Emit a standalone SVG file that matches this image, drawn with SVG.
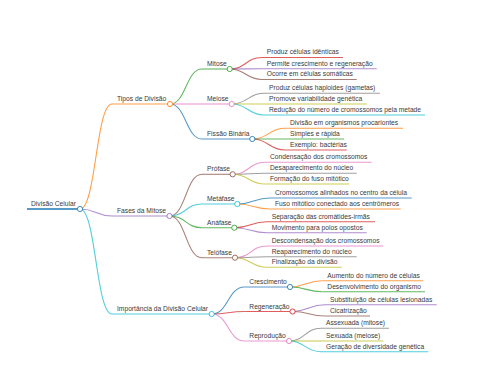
<svg xmlns="http://www.w3.org/2000/svg" width="480" height="384" viewBox="0 0 480 384">
<style>
.bg{fill:#ffffff}
path,line{fill:none;stroke-width:1.1;stroke-opacity:0.75}
circle{fill:#ffffff;stroke-width:1;stroke-opacity:0.85}
text{font-family:"Liberation Sans",Arial,sans-serif;font-size:6.7px;fill:#3a3a3a}
.c0{stroke:#1f77b4}.c1{stroke:#ff7f0e}.c2{stroke:#2ca02c}.c3{stroke:#d62728}.c4{stroke:#9467bd}
.c5{stroke:#8c564b}.c6{stroke:#e377c2}.c7{stroke:#7f7f7f}.c8{stroke:#bcbd22}.c9{stroke:#17becf}
.root{stroke-width:2}
</style>
<rect class="bg" x="0" y="0" width="480" height="384"/>
<g id="connectors">
<path class="c1" d="M80,209 C96,209 96,104 112,104"/>
<path class="c4" d="M80,209 C96,209 96,216 112,216"/>
<path class="c9" d="M80,209 C96,209 96,314 112,314"/>
<path class="c2" d="M170,104 C186,104 186,69 202,69"/>
<path class="c6" d="M170,104 L202,104"/>
<path class="c0" d="M170,104 C186,104 186,139 202,139"/>
<path class="c5" d="M169.5,216 C185.8,216 185.8,174.3 202,174.3"/>
<path class="c9" d="M169.5,216 C185.8,216 185.8,204 202,204"/>
<path class="c2" d="M169.5,216 C185.8,216 185.8,227.7 202,227.7"/>
<path class="c5" d="M169.5,216 C185.8,216 185.8,257.7 202,257.7"/>
<path class="c0" d="M211.7,314 C228.1,314 228.1,287 244.5,287"/>
<path class="c3" d="M211.7,314 C228.1,314 228.1,311.5 244.5,311.5"/>
<path class="c6" d="M211.7,314 C228.1,314 228.1,341 244.5,341"/>
<path class="c3" d="M229.7,69 C245.9,69 245.9,57.5 262,57.5"/>
<path class="c4" d="M229.7,69 C245.9,69 245.9,68.7 262,68.7"/>
<path class="c5" d="M229.7,69 C245.9,69 245.9,79.5 262,79.5"/>
<path class="c7" d="M231.7,104 C247.9,104 247.9,93.3 264,93.3"/>
<path class="c8" d="M231.7,104 L264,104"/>
<path class="c9" d="M231.7,104 C247.9,104 247.9,115 264,115"/>
<path class="c1" d="M252.3,139 C268.7,139 268.7,128.3 285,128.3"/>
<path class="c2" d="M252.3,139 L285,139"/>
<path class="c3" d="M252.3,139 C268.7,139 268.7,150 285,150"/>
<path class="c6" d="M232.7,174.3 C248.9,174.3 248.9,162.3 265,162.3"/>
<path class="c7" d="M232.7,174.3 C248.9,174.3 248.9,173.3 265,173.3"/>
<path class="c8" d="M232.7,174.3 C248.9,174.3 248.9,184 265,184"/>
<path class="c0" d="M237.3,204 C253.7,204 253.7,198 270,198"/>
<path class="c1" d="M237.3,204 C253.7,204 253.7,209 270,209"/>
<path class="c3" d="M234.3,227.7 C250.7,227.7 250.7,221.7 267,221.7"/>
<path class="c4" d="M234.3,227.7 C250.7,227.7 250.7,232.7 267,232.7"/>
<path class="c6" d="M235,257.7 C251,257.7 251,246 267,246"/>
<path class="c7" d="M235,257.7 C251,257.7 251,256.7 267,256.7"/>
<path class="c8" d="M235,257.7 C251,257.7 251,267.3 267,267.3"/>
<path class="c1" d="M290,287 C306.3,287 306.3,280.7 322.5,280.7"/>
<path class="c2" d="M290,287 C306.3,287 306.3,291.7 322.5,291.7"/>
<path class="c4" d="M292.5,311.5 C308.8,311.5 308.8,304.7 325,304.7"/>
<path class="c5" d="M292.5,311.5 C308.8,311.5 308.8,316 325,316"/>
<path class="c7" d="M289,341 C305,341 305,328.3 321,328.3"/>
<path class="c8" d="M289,341 L321,341"/>
<path class="c9" d="M289,341 C305,341 305,351.7 321,351.7"/>
</g>
<g id="n-root"><line class="c0 root" x1="27" y1="209" x2="80" y2="209"/><circle class="c0" cx="80" cy="209" r="2.6"/><text x="31" y="206">Divisão Celular</text></g>
<g id="n-tipos"><line class="c1" x1="112" y1="104" x2="170" y2="104"/><circle class="c1" cx="170" cy="104" r="2.6"/><text x="117" y="101">Tipos de Divisão</text></g>
<g id="n-fases"><line class="c4" x1="112" y1="216" x2="169.5" y2="216"/><circle class="c4" cx="169.5" cy="216" r="2.6"/><text x="117" y="213">Fases da Mitose</text></g>
<g id="n-importancia"><line class="c9" x1="112" y1="314" x2="211.7" y2="314"/><circle class="c9" cx="211.7" cy="314" r="2.6"/><text x="117" y="311">Importância da Divisão Celular</text></g>
<g id="n-mitose"><line class="c2" x1="202" y1="69" x2="229.7" y2="69"/><circle class="c2" cx="229.7" cy="69" r="2.6"/><text x="207" y="66">Mitose</text></g>
<g id="n-meiose"><line class="c6" x1="202" y1="104" x2="231.7" y2="104"/><circle class="c6" cx="231.7" cy="104" r="2.6"/><text x="207" y="101">Meiose</text></g>
<g id="n-fissao"><line class="c0" x1="202" y1="139" x2="252.3" y2="139"/><circle class="c0" cx="252.3" cy="139" r="2.6"/><text x="207" y="136">Fissão Binária</text></g>
<g id="n-profase"><line class="c5" x1="202" y1="174.3" x2="232.7" y2="174.3"/><circle class="c5" cx="232.7" cy="174.3" r="2.6"/><text x="207" y="171.3">Prófase</text></g>
<g id="n-metafase"><line class="c9" x1="202" y1="204" x2="237.3" y2="204"/><circle class="c9" cx="237.3" cy="204" r="2.6"/><text x="207" y="201">Metáfase</text></g>
<g id="n-anafase"><line class="c2" x1="202" y1="227.7" x2="234.3" y2="227.7"/><circle class="c2" cx="234.3" cy="227.7" r="2.6"/><text x="207" y="224.7">Anáfase</text></g>
<g id="n-telofase"><line class="c5" x1="202" y1="257.7" x2="235" y2="257.7"/><circle class="c5" cx="235" cy="257.7" r="2.6"/><text x="207" y="254.7">Telófase</text></g>
<g id="n-crescimento"><line class="c0" x1="244.5" y1="287" x2="290" y2="287"/><circle class="c0" cx="290" cy="287" r="2.6"/><text x="249.3" y="284">Crescimento</text></g>
<g id="n-regeneracao"><line class="c3" x1="244.5" y1="311.5" x2="292.5" y2="311.5"/><circle class="c3" cx="292.5" cy="311.5" r="2.6"/><text x="249.3" y="308.5">Regeneração</text></g>
<g id="n-reproducao"><line class="c6" x1="244.5" y1="341" x2="289" y2="341"/><circle class="c6" cx="289" cy="341" r="2.6"/><text x="249.3" y="338">Reprodução</text></g>
<g id="l-mit1"><line class="c3" x1="262" y1="57.5" x2="343" y2="57.5"/><text x="266.7" y="54.3">Produz células idênticas</text></g>
<g id="l-mit2"><line class="c4" x1="262" y1="68.7" x2="376.7" y2="68.7"/><text x="266.7" y="65.5">Permite crescimento e regeneração</text></g>
<g id="l-mit3"><line class="c5" x1="262" y1="79.5" x2="356.7" y2="79.5"/><text x="266.7" y="76.3">Ocorre em células somáticas</text></g>
<g id="l-mei1"><line class="c7" x1="264" y1="93.3" x2="380" y2="93.3"/><text x="269" y="90.1">Produz células haploides (gametas)</text></g>
<g id="l-mei2"><line class="c8" x1="264" y1="104" x2="366.7" y2="104"/><text x="269" y="100.8">Promove variabilidade genética</text></g>
<g id="l-mei3"><line class="c9" x1="264" y1="115" x2="425" y2="115"/><text x="269" y="111.8">Redução do número de cromossomos pela metade</text></g>
<g id="l-fis1"><line class="c1" x1="285" y1="128.3" x2="403" y2="128.3"/><text x="290" y="125.1">Divisão em organismos procariontes</text></g>
<g id="l-fis2"><line class="c2" x1="285" y1="139" x2="344" y2="139"/><text x="290" y="135.8">Simples e rápida</text></g>
<g id="l-fis3"><line class="c3" x1="285" y1="150" x2="346.7" y2="150"/><text x="290" y="146.8">Exemplo: bactérias</text></g>
<g id="l-pro1"><line class="c6" x1="265" y1="162.3" x2="371.7" y2="162.3"/><text x="270" y="159.1">Condensação dos cromossomos</text></g>
<g id="l-pro2"><line class="c7" x1="265" y1="173.3" x2="356.7" y2="173.3"/><text x="270" y="170.1">Desaparecimento do núcleo</text></g>
<g id="l-pro3"><line class="c8" x1="265" y1="184" x2="349" y2="184"/><text x="270" y="180.8">Formação do fuso mitótico</text></g>
<g id="l-met1"><line class="c0" x1="270" y1="198" x2="411.7" y2="198"/><text x="275" y="194.8">Cromossomos alinhados no centro da célula</text></g>
<g id="l-met2"><line class="c1" x1="270" y1="209" x2="400.7" y2="209"/><text x="275" y="205.8">Fuso mitótico conectado aos centrômeros</text></g>
<g id="l-ana1"><line class="c3" x1="267" y1="221.7" x2="375" y2="221.7"/><text x="271.7" y="218.5">Separação das cromátides-irmãs</text></g>
<g id="l-ana2"><line class="c4" x1="267" y1="232.7" x2="366.7" y2="232.7"/><text x="271.7" y="229.5">Movimento para polos opostos</text></g>
<g id="l-tel1"><line class="c6" x1="267" y1="246" x2="383.3" y2="246"/><text x="271.7" y="242.8">Descondensação dos cromossomos</text></g>
<g id="l-tel2"><line class="c7" x1="267" y1="256.7" x2="356.7" y2="256.7"/><text x="271.7" y="253.5">Reaparecimento do núcleo</text></g>
<g id="l-tel3"><line class="c8" x1="267" y1="267.3" x2="341.7" y2="267.3"/><text x="271.7" y="264.1">Finalização da divisão</text></g>
<g id="l-cre1"><line class="c1" x1="322.5" y1="280.7" x2="423.3" y2="280.7"/><text x="327.3" y="277.5">Aumento do número de células</text></g>
<g id="l-cre2"><line class="c2" x1="322.5" y1="291.7" x2="425" y2="291.7"/><text x="327.3" y="288.5">Desenvolvimento do organismo</text></g>
<g id="l-reg1"><line class="c4" x1="325" y1="304.7" x2="436.7" y2="304.7"/><text x="330" y="301.5">Substituição de células lesionadas</text></g>
<g id="l-reg2"><line class="c5" x1="325" y1="316" x2="370" y2="316"/><text x="330" y="312.8">Cicatrização</text></g>
<g id="l-rep1"><line class="c7" x1="321" y1="328.3" x2="389" y2="328.3"/><text x="326" y="325.1">Assexuada (mitose)</text></g>
<g id="l-rep2"><line class="c8" x1="321" y1="341" x2="383.3" y2="341"/><text x="326" y="337.8">Sexuada (meiose)</text></g>
<g id="l-rep3"><line class="c9" x1="321" y1="351.7" x2="428.3" y2="351.7"/><text x="326" y="348.5">Geração de diversidade genética</text></g>
</svg>
